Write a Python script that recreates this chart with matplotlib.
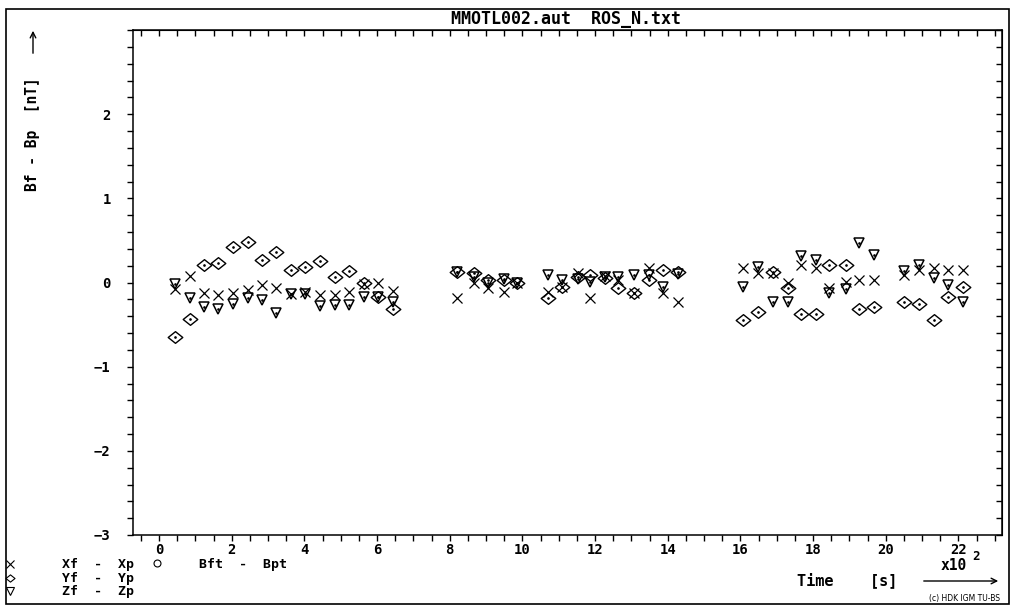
import numpy as np
import matplotlib
matplotlib.use("Agg")
import matplotlib.pyplot as plt
from matplotlib.lines import Line2D
from matplotlib.patches import Rectangle
from matplotlib.path import Path
from matplotlib.ticker import MultipleLocator

# time axis in units of 10^2 s
time = [0.44, 0.85, 1.24, 1.63, 2.04, 2.45, 2.84, 3.22, 3.64, 4.02, 4.44, 4.85, 5.23, 5.65, 6.03, 6.45,
        8.21, 8.68, 9.06, 9.48, 9.86,
        10.69, 11.10, 11.52, 11.87, 12.26, 12.64, 13.06, 13.47, 13.88, 14.27,
        16.06, 16.47, 16.89, 17.30, 17.66, 18.07, 18.43, 18.90, 19.26, 19.67,
        20.50, 20.91, 21.32, 21.71, 22.12]

# Xf - Xp  [nT]
dx = [-0.08, 0.08, -0.13, -0.15, -0.13, -0.09, -0.03, -0.06, -0.14, -0.11, -0.15, -0.15, -0.11, -0.02, 0.00, -0.10,
      -0.19, 0.00, -0.07, -0.11, -0.01,
      -0.11, -0.05, 0.11, -0.19, 0.08, 0.03, -0.13, 0.17, -0.13, -0.23,
      0.17, 0.11, 0.11, -0.01, 0.21, 0.17, -0.07, 0.01, 0.03, 0.03,
      0.09, 0.15, 0.17, 0.15, 0.15]

# Yf - Yp  [nT]
dy = [-0.65, -0.43, 0.21, 0.23, 0.42, 0.48, 0.27, 0.36, 0.15, 0.19, 0.25, 0.06, 0.14, 0.00, -0.17, -0.32,
      0.12, 0.11, 0.03, 0.03, -0.01,
      -0.19, -0.05, 0.07, 0.09, 0.05, -0.07, -0.13, 0.03, 0.15, 0.12,
      -0.44, -0.35, 0.13, -0.07, -0.37, -0.37, 0.21, 0.21, -0.31, -0.29,
      -0.23, -0.25, -0.44, -0.17, -0.05]

# Zf - Zp  [nT]
dz = [-0.02, -0.19, -0.29, -0.32, -0.26, -0.19, -0.21, -0.36, -0.14, -0.14, -0.28, -0.27, -0.27, -0.17, -0.17, -0.23,
      0.12, 0.07, -0.01, 0.04, 0.00,
      0.09, 0.03, 0.04, 0.01, 0.07, 0.07, 0.09, 0.09, -0.05, 0.10,
      -0.05, 0.19, -0.23, -0.23, 0.32, 0.27, -0.13, -0.08, 0.47, 0.33,
      0.14, 0.21, 0.05, -0.03, -0.23]

xticks = [0, 2, 4, 6, 8, 10, 12, 14, 16, 18, 20, 22]
yticks = [-3, -2, -1, 0, 1, 2]

W, H = 1011, 606
MONO = "DejaVu Sans Mono"
plt.rcParams['font.family'] = MONO
plt.rcParams['font.weight'] = 'bold'


def fx(px):
    return px / W


def fy(py):
    return 1 - py / H


diamond = Path([(-1, 0), (0, 0.8), (1, 0), (0, -0.8), (-1, 0)],
               [Path.MOVETO, Path.LINETO, Path.LINETO, Path.LINETO, Path.CLOSEPOLY])

fig = plt.figure(figsize=(W / 100, H / 100), dpi=100)
ax = fig.add_axes([fx(133), fy(535), fx(1002) - fx(133), fy(30) - fy(535)])

ax.plot(time, dx, ls='none', marker='x', ms=7.5, mew=0.9, color='black')
ax.plot(time, dy, ls='none', marker=diamond, ms=10.5, mew=1.0, mfc='none', mec='black')
ax.plot(time, dy, ls='none', marker='.', ms=1.8, color='black')
ax.plot(time, dz, ls='none', marker='v', ms=6.5, mew=1.1, mfc='none', mec='black')
ax.plot(time, dz, ls='none', marker='.', ms=1.8, color='black')

ax.set_xlim(-0.72, 23.2)
ax.set_ylim(-3, 3)
ax.set_xticks(xticks)
ax.set_yticks(yticks)
ax.xaxis.set_minor_locator(MultipleLocator(0.5))
ax.yaxis.set_minor_locator(MultipleLocator(0.2))
ax.tick_params(which='both', direction='out', length=4, width=1, labelsize=10)
ax.tick_params(axis='x', pad=2)
ax.tick_params(axis='y', pad=12)
for s in ax.spines.values():
    s.set_linewidth(1.1)

top = ax.secondary_xaxis('top')
top.xaxis.set_major_locator(MultipleLocator(0.5))
top.tick_params(direction='in', length=4, width=1, labeltop=False)
right = ax.secondary_yaxis('right')
right.yaxis.set_major_locator(MultipleLocator(0.2))
right.tick_params(direction='in', length=4, width=1, labelright=False)

# outer frame
fig.add_artist(Rectangle((fx(6), fy(604)), fx(1009) - fx(6), fy(9) - fy(604),
                         transform=fig.transFigure, fill=False, lw=1.2, color='black'))

fig.text(fx(566), fy(19), "MMOTL002.aut  ROS_N.txt", ha='center', va='center', fontsize=12)

# y label with arrow
fig.text(fx(33), fy(134), "Bf - Bp  [nT]", rotation=90, ha='center', va='center', fontsize=10.5)
ax.annotate("", xy=(fx(33), fy(28)), xytext=(fx(33), fy(56)), xycoords='figure fraction',
            textcoords='figure fraction', arrowprops=dict(arrowstyle='->', lw=1, color='black'))

# legend at bottom left
legend_rows = [("x", "Xf  -  Xp", 564), (diamond, "Yf  -  Yp", 578), ("v", "Zf  -  Zp", 591)]
for mk, label, py in legend_rows:
    fig.add_artist(Line2D([fx(10)], [fy(py)], ls='none', marker=mk, ms=6.5 if mk is diamond else 5.5,
                          mew=0.8, mfc='none', mec='black', transform=fig.transFigure))
    fig.text(fx(62), fy(py + 4), label, ha='left', va='baseline', fontsize=9.5)
fig.add_artist(Line2D([fx(157)], [fy(563)], ls='none', marker='o', ms=5, mew=0.8,
                      mfc='none', mec='black', transform=fig.transFigure))
fig.text(fx(199), fy(568), "Bft  -  Bpt", ha='left', va='baseline', fontsize=9.5)

# x axis label, scale and arrow
fig.text(fx(954), fy(566), "x10", ha='center', va='center', fontsize=10.5)
fig.text(fx(972), fy(557), "2", ha='left', va='center', fontsize=9)
fig.text(fx(847), fy(580), "Time    [s]", ha='center', va='center', fontsize=11)
ax.annotate("", xy=(fx(1001), fy(581)), xytext=(fx(921), fy(581)), xycoords='figure fraction',
            textcoords='figure fraction', arrowprops=dict(arrowstyle='->', lw=1, color='black'))
fig.text(fx(1000), fy(598), "(c) HDK IGM TU-BS", ha='right', va='center', fontsize=5.5,
         family="DejaVu Sans", weight='normal')

fig.savefig("out.png", dpi=100)
